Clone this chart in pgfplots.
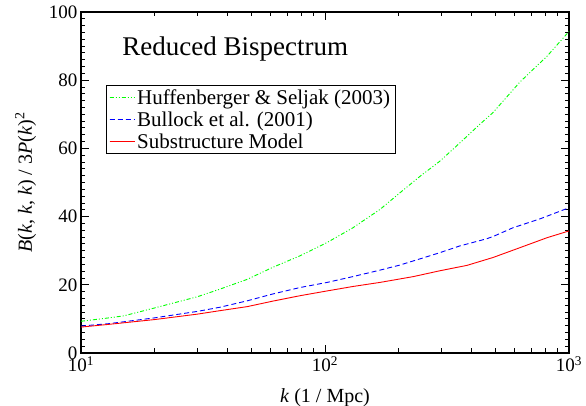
\documentclass[border=0pt]{standalone}
\usepackage{fontspec}
\setmainfont{Liberation Serif}
\usepackage{pgfplots}
\pgfplotsset{compat=1.18}

\begin{document}
\begin{tikzpicture}
\begin{axis}[
scale only axis,
width=488pt, height=341pt,
xmode=log,
xmin=10, xmax=1000,
ymin=0, ymax=100,
xtick={10,100,1000},
xticklabels={10\textsuperscript{1},10\textsuperscript{2},10\textsuperscript{3}},
ytick={0,20,40,60,80,100},
minor y tick num=9,
tick align=inside,
major tick length=8pt,
minor tick length=4.5pt,
every tick/.style={black, line width=0.9pt},
axis line style={black, line width=1.4pt},
tick label style={font=\fontsize{19}{22}\selectfont},
/pgf/number format/assume math mode=true,
xlabel={\textit{k} (1 / Mpc)},
ylabel={\textit{B}(\textit{k}, \textit{k}, \textit{k}) / 3\textit{P}(\textit{k})\textsuperscript{2}},
label style={font=\fontsize{20}{23}\selectfont},
xlabel style={yshift=-10pt},
ylabel style={yshift=6pt},
legend style={at={(rel axis cs:0.051,0.786)}, anchor=north west,
  draw=black, line width=0.8pt, font=\fontsize{21}{22}\selectfont,
  inner xsep=3pt, inner ysep=2pt, row sep=2pt},
legend cell align=left,
legend image code/.code={\draw[#1] (0pt,0pt) -- (20pt,0pt); \path (0pt,0pt) -- (25pt,0pt);},
]
\addplot [green, line width=0.9pt, dash pattern=on 4pt off 2pt on 1pt off 2pt on 1pt off 2pt]
table {%
10 9.3
13 10.3
15 10.9
20 13.2
30 16.5
37 18.7
48 21.6
61 25.1
79 28.5
102 32.4
130 36.7
168 42.1
203 47
245 51.8
295 56.2
357 61.6
430 67
488 70.5
630 79.5
812 87
1000 94.3
};
\addlegendentry{Huffenberger \& Seljak (2003)}
\addplot [blue, line width=0.9pt, dash pattern=on 5pt off 3pt]
table {%
10 7.9
13 8.6
20 10.3
30 12.2
37 13.4
48 15.3
61 17.3
79 19.2
102 20.7
130 22.4
168 24.3
203 25.8
245 27.6
295 29.4
357 31.4
460 33.5
490 34.2
588 36.7
765 39.4
1000 42.6
};
\addlegendentry{Bullock et al. (2001)}
\addplot [red, line width=0.9pt]
table {%
10 7.6
13 8.4
20 9.8
30 11.4
37 12.4
48 13.6
61 15.2
79 16.8
102 18.2
130 19.5
168 20.7
230 22.4
295 24.1
382 25.7
488 28
630 30.9
812 33.8
1000 35.8
};
\addlegendentry{Substructure Model}
\node[font=\fontsize{27}{30}\selectfont] at (rel axis cs:0.316,0.89) {Reduced Bispectrum};
\coordinate (bl) at (rel axis cs:0,0);
\end{axis}
\pgfresetboundingbox
\path (bl) ++(-81pt,-53pt) rectangle ++(586pt,406pt);
\end{tikzpicture}
\end{document}
